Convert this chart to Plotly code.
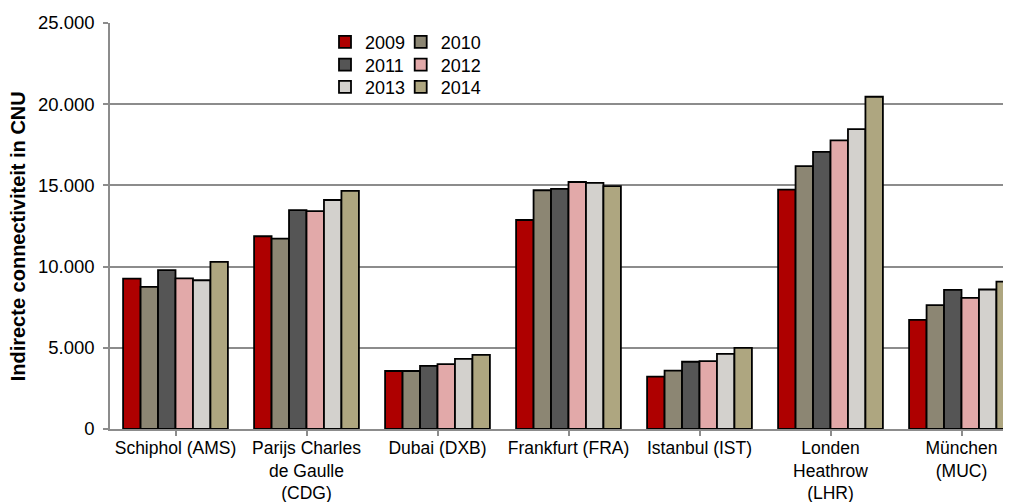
import plotly.graph_objects as go

categories = ["Schiphol (AMS)", "Parijs Charles<br>de Gaulle<br>(CDG)", "Dubai (DXB)",
              "Frankfurt (FRA)", "Istanbul (IST)", "Londen<br>Heathrow<br>(LHR)", "München<br>(MUC)"]
years = ["2009", "2010", "2011", "2012", "2013", "2014"]
v2009 = [9260, 11870, 3570, 12870, 3220, 14740, 6720]
v2010 = [8750, 11720, 3570, 14700, 3590, 16190, 7630]
v2011 = [9780, 13480, 3890, 14780, 4140, 17070, 8570]
v2012 = [9270, 13420, 4000, 15210, 4180, 17770, 8080]
v2013 = [9160, 14100, 4320, 15150, 4630, 18470, 8590]
v2014 = [10290, 14660, 4570, 14950, 4990, 20460, 9080]
series = [v2009, v2010, v2011, v2012, v2013, v2014]
colors = ["#AE0000", "#8C8673", "#555555", "#E2A9A9", "#D3D1CD", "#AEA680"]

# page body has an 8px margin; compensate so the figure fills the 1011x502 window
OFF = 8
SW, SH = 1011, 502            # screen size
PL, PT, PB = 110, 23, 429.3   # plot edges in screen pixels
FW, FH = SW - OFF, SH - OFF
ml, mt, mb = PL - OFF, PT - OFF, SH - PB
plot_w = FW - ml
plot_h = FH - mt - mb
cat_px = 131.0

def px(sx):
    return (sx - PL) / plot_w

def py(sy):
    return (PB - sy) / plot_h

font = "Liberation Sans, Arial, sans-serif"
grid = "#8C8C8C"

# legend placement: (text-left x, row centre y) in screen pixels
leg_pos = [(365, 42.2), (440.7, 42.2), (365, 65), (440.7, 65), (365, 87.3), (440.7, 87.3)]

fig = go.Figure()
layout_legends = {}
for i, (y, vals, c) in enumerate(zip(years, series, colors)):
    lname = "legend" if i == 0 else f"legend{i + 1}"
    fig.add_trace(go.Bar(
        x=list(range(len(categories))), y=vals, name=y,
        marker=dict(color=c, line=dict(color="black", width=1.8)),
        legend=lname, showlegend=True,
    ))
    tx, cy = leg_pos[i]
    layout_legends[lname] = dict(
        x=px(tx - 40), y=py(cy - 18.5), xanchor="left", yanchor="top",
        bgcolor="rgba(0,0,0,0)", font=dict(size=18), itemwidth=30,
    )

fig.update_layout(
    width=FW, height=FH, showlegend=True,
    margin=dict(l=ml, r=0, t=mt, b=mb, pad=0, autoexpand=False),
    paper_bgcolor="white", plot_bgcolor="white",
    separators=",.",
    barmode="group", bargap=0.2, bargroupgap=0,
    font=dict(family=font, size=18, color="black"),
    xaxis=dict(
        range=[-0.5, -0.5 + plot_w / cat_px], automargin=False,
        tickmode="array", tickvals=list(range(len(categories))), ticktext=categories,
        tickson="boundaries", ticks="outside", ticklen=5, tickcolor=grid, tickwidth=1.5,
        ticklabelstandoff=-3,
        showline=True, linecolor=grid, linewidth=1.5, showgrid=False,
        tickfont=dict(size=17.5), zeroline=False,
    ),
    yaxis=dict(
        range=[0, 25000], dtick=5000, tickformat=",d", automargin=False,
        ticks="outside", ticklen=5, tickcolor=grid, tickwidth=1.5, ticklabelstandoff=5,
        showline=True, linecolor=grid, linewidth=1.5,
        showgrid=True, gridcolor=grid, gridwidth=1.5, zeroline=False,
        tickfont=dict(size=18.5),
    ),
    annotations=[dict(
        text="<b>Indirecte connectiviteit in CNU</b>", textangle=-90,
        xref="paper", yref="paper", x=px(17.5), y=py(237),
        xanchor="center", yanchor="middle", showarrow=False, font=dict(size=20),
    )],
    **layout_legends,
)

fig.write_html("out.html")
